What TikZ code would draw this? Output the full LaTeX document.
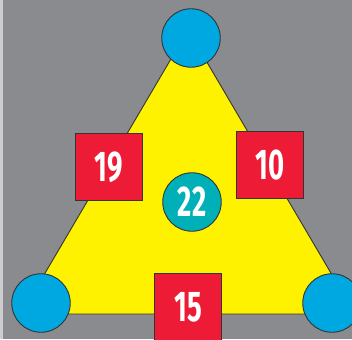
\documentclass[tikz,border=0pt]{standalone}
\usepackage{fontspec}
\setmainfont{Fira Sans}[FakeStretch=0.64]
\usetikzlibrary{positioning}
\definecolor{bggray}{RGB}{138,139,143}
\definecolor{stripgray}{RGB}{205,205,208}
\definecolor{triyellow}{RGB}{255,242,0}
\definecolor{dotblue}{RGB}{0,168,225}
\definecolor{boxred}{RGB}{237,27,54}
\definecolor{sumteal}{RGB}{0,176,185}
\definecolor{edge}{RGB}{51,51,51}

\begin{document}
\begin{tikzpicture}[x=1pt,y=-1pt,
  corner/.style={circle,draw=edge,line width=0.9pt,fill=dotblue,minimum size=58.5pt,inner sep=0pt},
  numbox/.style={draw=edge,line width=0.9pt,fill=boxred,minimum size=66.5pt,inner sep=0pt,
    text=white,font=\bfseries\fontsize{43}{43}\selectfont},
  sumdot/.style={circle,draw=edge,line width=0.9pt,fill=sumteal,minimum size=58.5pt,inner sep=0pt,
    text=white,font=\bfseries\fontsize{43}{43}\selectfont}]
\useasboundingbox (0,0) rectangle (352,339);
% background
\fill[bggray] (0,0) rectangle (352,339);
\fill[stripgray] (0,0) rectangle (3,339);
% yellow triangle
\draw[fill=triyellow,draw=edge,line width=0.9pt] (188,30) -- (21,314) -- (355,314) -- cycle;
% corner circles
\node[corner] (top) at (191,38) {};
\node[corner] (left) at (41,303) {};
\node[corner] (right) at (332,303) {};
% side numbers
\node[numbox] (west) at (109,167) {19};
\node[numbox] (east) at (270,165) {10};
\node[numbox] (south) at (188,307) {15};
% middle number
\node[sumdot] (sum) at (192,202) {22};
\end{tikzpicture}
\end{document}
